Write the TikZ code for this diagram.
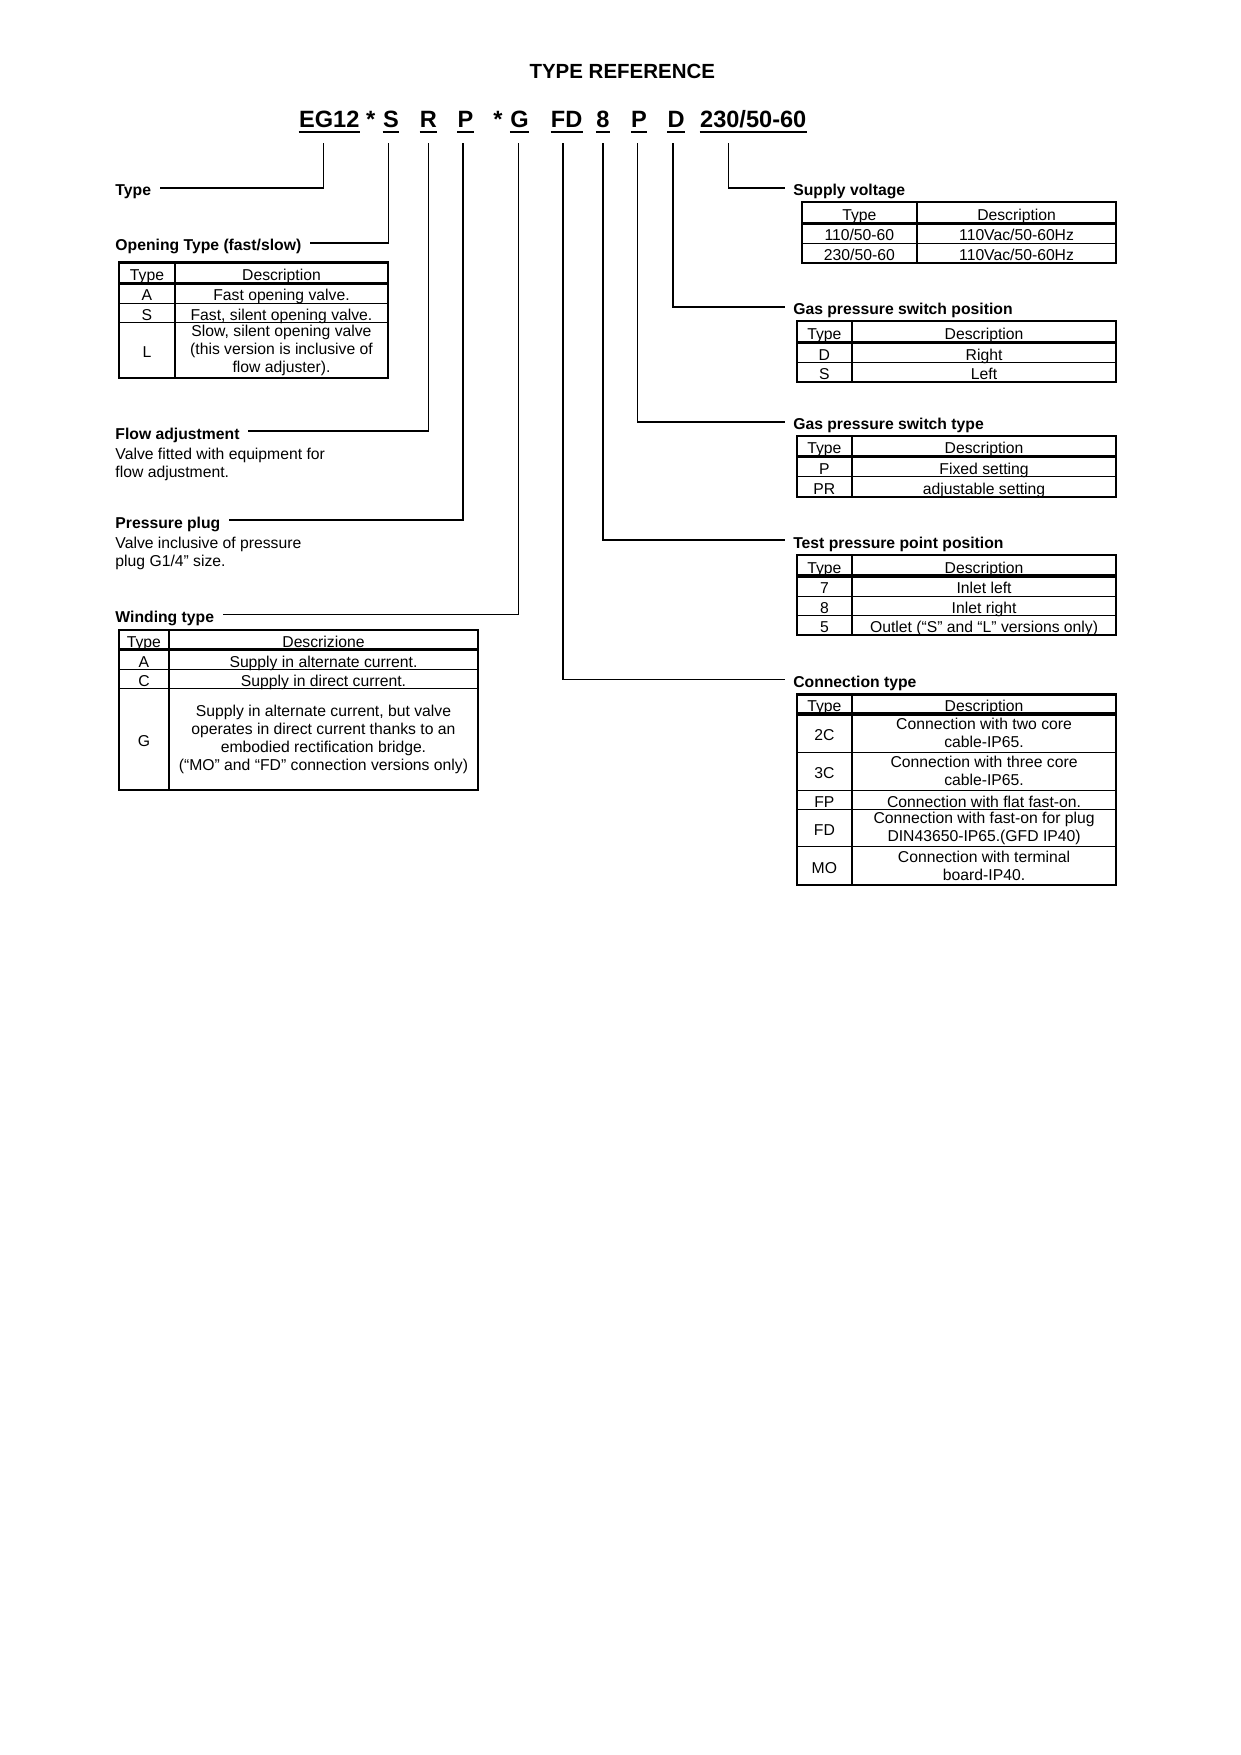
\documentclass[tikz,border=0pt]{standalone}
\usepackage{fontspec}
\setmainfont{Liberation Sans}
\usetikzlibrary{positioning}

\begin{document}
\begin{tikzpicture}[x=0.541pt,y=-0.541pt,
    title/.style={font=\fontsize{9.9}{12}\selectfont\bfseries, inner sep=0pt, anchor=base},
    code/.style={font=\fontsize{11.4}{13}\selectfont\bfseries, inner xsep=0pt, inner ysep=7.4pt, text depth=0pt, anchor=base},
    uline/.style={line width=1pt},
    lbl/.style={font=\fontsize{7.6}{8.9}\selectfont\bfseries, inner xsep=4pt, inner ysep=0pt, text height=1.5ex, text depth=0pt},
    desc/.style={font=\fontsize{7.6}{8.9}\selectfont, inner sep=0pt, align=left},
    cell/.style={font=\fontsize{7.6}{8.9}\selectfont, inner sep=0pt, text height=1.38ex, text depth=0pt},
    mcell/.style={font=\fontsize{7.6}{8.7}\selectfont, inner sep=0pt, align=center},
    link/.style={line width=0.8pt},
    tabframe/.style={line width=1pt},
    tabhead/.style={line width=1.6pt},
    tabrow/.style={line width=0.55pt}]
    \useasboundingbox (0,0) rectangle (1108,1568);

    \node[title] (title) at (556,70) {TYPE REFERENCE};

    % type code
    \node[code] (cEG) at (294.2,113.8) {EG12};
    \node[code] (star1) at (331.3,113.8) {*};
    \node[code] (cS) at (349.3,113.8) {S};
    \node[code] (cR) at (382.8,113.8) {R};
    \node[code] (cP) at (415.8,113.8) {P};
    \node[code] (star2) at (444.8,113.8) {*};
    \node[code] (cG) at (464.2,113.8) {G};
    \node[code] (cFD) at (506.3,113.8) {FD};
    \node[code] (c8) at (538.7,113.8) {8};
    \node[code] (cPs) at (571,113.8) {P};
    \node[code] (cD) at (604,113.8) {D};
    \node[code] (cV) at (673,113.8) {230/50-60};
    \foreach \n in {cEG,cS,cR,cP,cG,cFD,c8,cPs,cD,cV}
        \draw[uline] ([yshift=-2.4pt]\n.base west) -- ([yshift=-2.4pt]\n.base east);

    % left labels
    \node[lbl,anchor=west] (lblType) at (95.4,167.7) {Type};
    \node[lbl,anchor=west] (lblOpen) at (95.4,216.9) {Opening Type (fast/slow)};
    \node[lbl,anchor=west] (lblFlow) at (95.4,385.2) {Flow adjustment};
    \node[desc,below right=3.7pt and 4pt of lblFlow.south west] (descFlow) {Valve fitted with equipment for\\flow adjustment.};
    \node[lbl,anchor=west] (lblPlug) at (95.4,464.7) {Pressure plug};
    \node[desc,below right=3.7pt and 4pt of lblPlug.south west] (descPlug) {Valve inclusive of pressure\\plug G1/4” size.};
    \node[lbl,anchor=west] (lblWind) at (95.4,549) {Winding type};

    % right labels
    \node[lbl,anchor=west] (lblSupply) at (701,167.7) {Supply voltage};
    \node[lbl,anchor=west] (lblGasPos) at (701,274) {Gas pressure switch position};
    \node[lbl,anchor=west] (lblGasType) at (701,376.8) {Gas pressure switch type};
    \node[lbl,anchor=west] (lblTest) at (701,482.6) {Test pressure point position};
    \node[lbl,anchor=west] (lblConn) at (701,607) {Connection type};

    % connectors
    \draw[link] ([xshift=-2.8pt]cEG.south) |- (lblType.east);
    \draw[link] ([xshift=-1.2pt]cS.south) |- (lblOpen.east);
    \draw[link] (cR.south) |- (lblFlow.east);
    \draw[link] ([xshift=-1pt]cP.south) |- (lblPlug.east);
    \draw[link] ([xshift=-0.5pt]cG.south) |- (lblWind.east);
    \draw[link] ([xshift=-1.9pt]cFD.south) |- (lblConn.west);
    \draw[link] (c8.south) |- (lblTest.west);
    \draw[link] ([xshift=-0.8pt]cPs.south) |- (lblGasType.west);
    \draw[link] ([xshift=-1.6pt]cD.south) |- (lblGasPos.west);
    \draw[link] ([xshift=13.9pt]cV.south west) |- (lblSupply.west);

    % opening type table
    \draw[tabframe] (106.3,234.5) rectangle (346.7,337.8);
    \draw[tabframe] (156.3,234.5) -- (156.3,337.8);
    \draw[tabhead] (106.3,253) -- (346.7,253);
    \foreach \y in {270.8,288.1} \draw[tabrow] (106.3,\y) -- (346.7,\y);
    \node[cell] (opT) at (131.3,243.75) {Type};
    \node[cell] (opD) at (251.5,243.75) {Description};
    \node[cell] (opA) at (131.3,261.9) {A};
    \node[cell] (opAd) at (251.5,261.9) {Fast opening valve.};
    \node[cell] (opS) at (131.3,279.45) {S};
    \node[cell] (opSd) at (251.5,279.45) {Fast, silent opening valve.};
    \node[cell] (opL) at (131.3,312.95) {L};
    \node[mcell] (opLd) at (251.5,312.95) {Slow, silent opening valve\\(this version is inclusive of\\flow adjuster).};

    % winding type table
    \draw[tabframe] (106.3,562.5) rectangle (427,705.4);
    \draw[tabframe] (150.9,562.5) -- (150.9,705.4);
    \draw[tabhead] (106.3,580.4) -- (427,580.4);
    \foreach \y in {598.2,615.5} \draw[tabrow] (106.3,\y) -- (427,\y);
    \node[cell] (wdT) at (128.6,571.45) {Type};
    \node[cell] (wdD) at (289,571.45) {Descrizione};
    \node[cell] (wdA) at (128.6,589.3) {A};
    \node[cell] (wdAd) at (289,589.3) {Supply in alternate current.};
    \node[cell] (wdC) at (128.6,606.85) {C};
    \node[cell] (wdCd) at (289,606.85) {Supply in direct current.};
    \node[cell] (wdG) at (128.6,660.45) {G};
    \node[mcell] (wdGd) at (289,660.45) {Supply in alternate current, but valve\\operates in direct current thanks to an\\embodied rectification bridge.\\(“MO” and “FD” connection versions only)};

    % supply voltage table
    \draw[tabframe] (716.4,180.7) rectangle (997.3,235.1);
    \draw[tabframe] (819.2,180.7) -- (819.2,235.1);
    \draw[tabhead] (716.4,199.4) -- (997.3,199.4);
    \draw[tabrow] (716.4,217.3) -- (997.3,217.3);
    \node[cell] (svT) at (767.8,190) {Type};
    \node[cell] (svD) at (908.25,190) {Description};
    \node[cell] (sv1) at (767.8,208.35) {110/50-60};
    \node[cell] (sv1d) at (908.25,208.35) {110Vac/50-60Hz};
    \node[cell] (sv2) at (767.8,226.2) {230/50-60};
    \node[cell] (sv2d) at (908.25,226.2) {110Vac/50-60Hz};

    % gas pressure switch position table
    \draw[tabframe] (712,287.2) rectangle (997.3,341.4);
    \draw[tabframe] (761.1,287.2) -- (761.1,341.4);
    \draw[tabhead] (712,306) -- (997.3,306);
    \draw[tabrow] (712,323.8) -- (997.3,323.8);
    \node[cell] (gpT) at (736.55,296.6) {Type};
    \node[cell] (gpD) at (879.2,296.6) {Description};
    \node[cell] (gpR) at (736.55,314.9) {D};
    \node[cell] (gpRd) at (879.2,314.9) {Right};
    \node[cell] (gpL) at (736.55,332.6) {S};
    \node[cell] (gpLd) at (879.2,332.6) {Left};

    % gas pressure switch type table
    \draw[tabframe] (712,389.6) rectangle (997.3,443.9);
    \draw[tabframe] (761.1,389.6) -- (761.1,443.9);
    \draw[tabhead] (712,408.1) -- (997.3,408.1);
    \draw[tabrow] (712,426) -- (997.3,426);
    \node[cell] (gtT) at (736.55,398.85) {Type};
    \node[cell] (gtD) at (879.2,398.85) {Description};
    \node[cell] (gtP) at (736.55,417) {P};
    \node[cell] (gtPd) at (879.2,417) {Fixed setting};
    \node[cell] (gtPR) at (736.55,434.95) {PR};
    \node[cell] (gtPRd) at (879.2,434.95) {adjustable setting};

    % test pressure point table
    \draw[tabframe] (712,496) rectangle (997.3,567.5);
    \draw[tabframe] (761.1,496) -- (761.1,567.5);
    \draw[tabhead] (712,514.7) -- (997.3,514.7);
    \foreach \y in {532.6,549.6} \draw[tabrow] (712,\y) -- (997.3,\y);
    \node[cell] (tpT) at (736.55,505.35) {Type};
    \node[cell] (tpD) at (879.2,505.35) {Description};
    \node[cell] (tp7) at (736.55,523.65) {7};
    \node[cell] (tp7d) at (879.2,523.65) {Inlet left};
    \node[cell] (tp8) at (736.55,541.1) {8};
    \node[cell] (tp8d) at (879.2,541.1) {Inlet right};
    \node[cell] (tp5) at (736.55,558.55) {5};
    \node[cell] (tp5d) at (879.2,558.55) {Outlet (“S” and “L” versions only)};

    % connection type table
    \draw[tabframe] (712,620.5) rectangle (997.3,790.9);
    \draw[tabframe] (761.1,620.5) -- (761.1,790.9);
    \draw[tabhead] (712,638) -- (997.3,638);
    \foreach \y in {672.3,706,723.3,756.6} \draw[tabrow] (712,\y) -- (997.3,\y);
    \node[cell] (ctT) at (736.55,629.25) {Type};
    \node[cell] (ctD) at (879.2,629.25) {Description};
    \node[cell] (ct2C) at (736.55,655.15) {2C};
    \node[mcell] (ct2Cd) at (879.2,655.15) {Connection with two core\\cable-IP65.};
    \node[cell] (ct3C) at (736.55,689.15) {3C};
    \node[mcell] (ct3Cd) at (879.2,689.15) {Connection with three core\\cable-IP65.};
    \node[cell] (ctFP) at (736.55,714.65) {FP};
    \node[cell] (ctFPd) at (879.2,714.65) {Connection with flat fast-on.};
    \node[cell] (ctFD) at (736.55,739.95) {FD};
    \node[mcell] (ctFDd) at (879.2,739.95) {Connection with fast-on for plug\\DIN43650-IP65.(GFD IP40)};
    \node[cell] (ctMO) at (736.55,773.75) {MO};
    \node[mcell] (ctMOd) at (879.2,773.75) {Connection with terminal\\board-IP40.};
\end{tikzpicture}
\end{document}
